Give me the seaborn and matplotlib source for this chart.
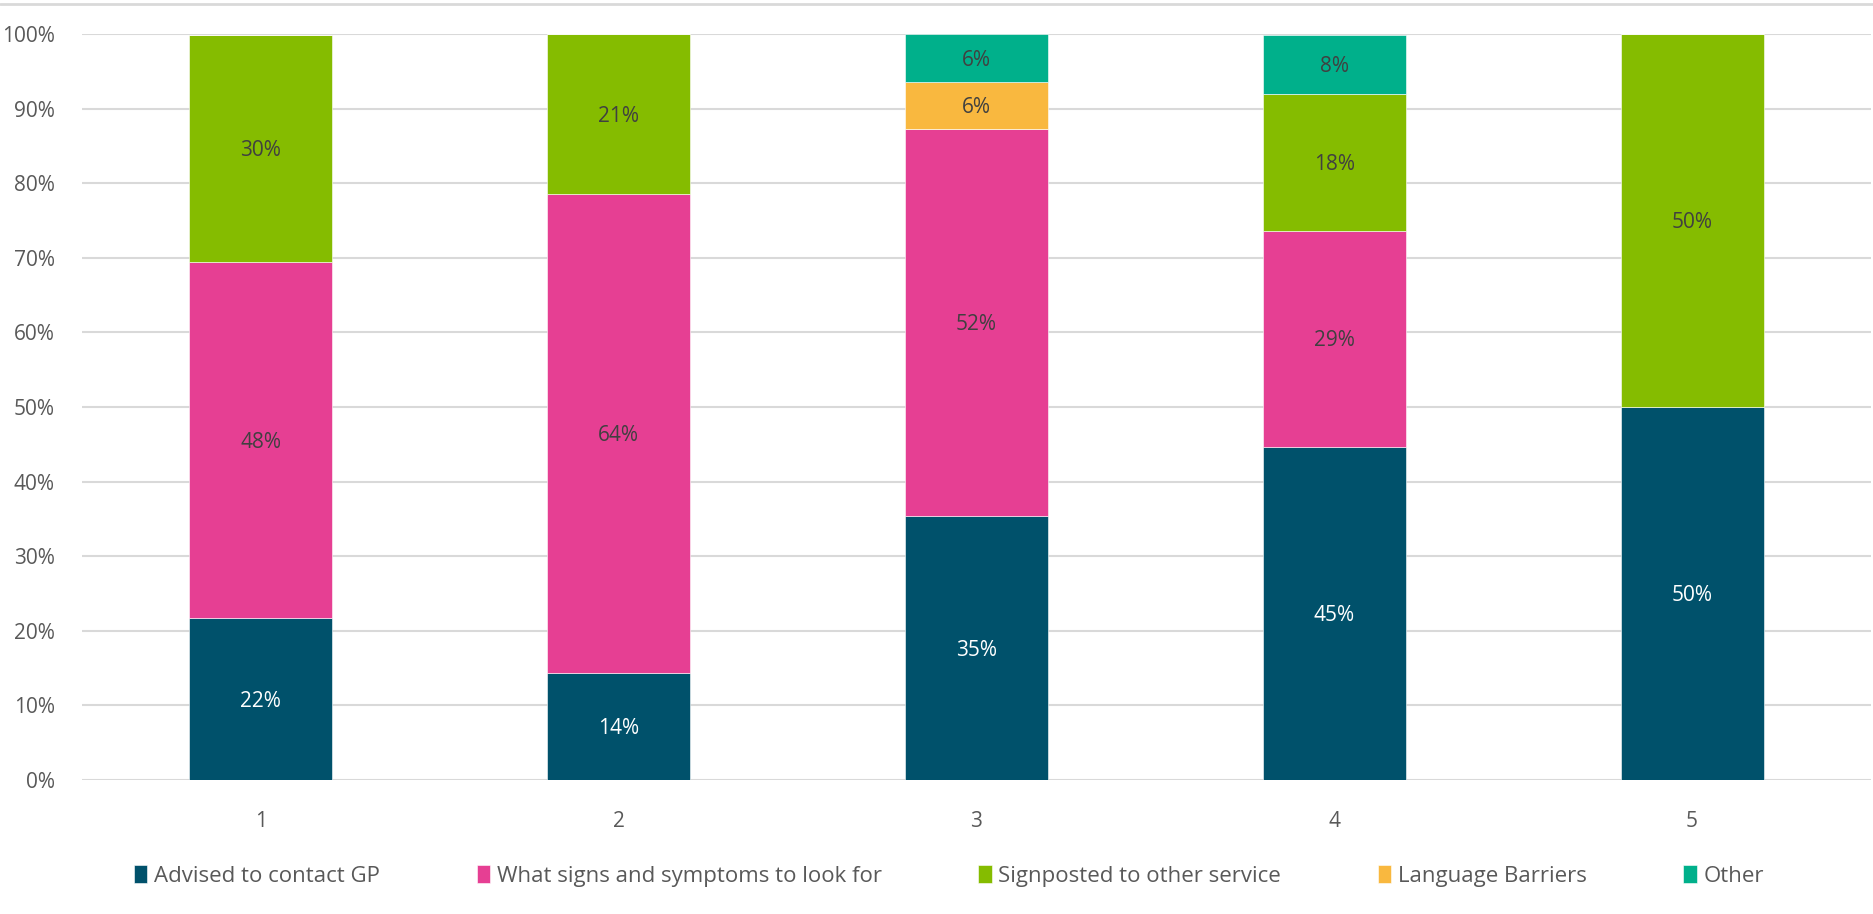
import matplotlib
matplotlib.use("Agg")
import matplotlib.pyplot as plt
import seaborn as sns
import numpy as np
import pandas as pd
from matplotlib.patches import Patch
from matplotlib.lines import Line2D

categories = ["1", "2", "3", "4", "5"]
series_names = ["Advised to contact GP", "What signs and symptoms to look for",
                "Signposted to other service", "Language Barriers", "Other"]
advised_gp = [21.7, 14.3, 35.4, 44.7, 50.0]
signs_symptoms = [47.8, 64.3, 51.8, 28.9, 0.0]
signposted = [30.4, 21.4, 0.0, 18.4, 50.0]
language = [0.0, 0.0, 6.4, 0.0, 0.0]
other = [0.0, 0.0, 6.4, 7.9, 0.0]
yticks = [0, 10, 20, 30, 40, 50, 60, 70, 80, 90, 100]

colors = ["#00516b", "#e63f93", "#85bc00", "#f9b83f", "#00b08b"]
label_colors = ["white", "#404040", "#404040", "#404040", "#404040"]

sns.set_theme(style="white")
plt.rcParams['font.family'] = ['Open Sans', 'DejaVu Sans']

fig = plt.figure(figsize=(18.74, 9.14), dpi=100)
ax = fig.add_axes([82/1874, 1-780/914, (1871-82)/1874, (780-34)/914])

series = [advised_gp, signs_symptoms, signposted, language, other]
bottom = np.zeros(len(categories))
for name, vals, col, lc in zip(series_names, series, colors, label_colors):
    df = pd.DataFrame({"cat": categories, "val": vals})
    sns.barplot(data=df, x="cat", y="val", order=categories, color=col,
                bottom=bottom, width=0.4, ax=ax, edgecolor="white",
                linewidth=0.4, saturation=1, zorder=3)
    for i, v in enumerate(vals):
        if v > 0:
            ax.text(i, bottom[i] + v / 2 - 0.3, f"{round(v):.0f}%", ha="center", va="center",
                    color=lc, fontsize=15, zorder=4)
    bottom = bottom + np.array(vals)

ax.set_xlim(-0.5, 4.5)
ax.set_ylim(0, 100)
ax.set_yticks(yticks)
ax.set_yticklabels([f"{t}%" for t in yticks])
ax.yaxis.grid(True, color="#d9d9d9", linewidth=1.5, zorder=0)
ax.set_axisbelow(True)
for s in ax.spines.values():
    s.set_visible(False)
ax.tick_params(axis="y", length=0, pad=19.5, labelsize=15, labelcolor="#595959")
ax.tick_params(axis="x", length=0, pad=22, labelsize=15, labelcolor="#595959")
ax.set_xlabel("")
ax.set_ylabel("")

# top border line
fig.add_artist(Line2D([0, 1], [1-4/914, 1-4/914], transform=fig.transFigure,
                      color="#d9d9d9", linewidth=2))

handles = [Patch(facecolor=c, edgecolor="white", linewidth=0.4) for c in colors]
fig.legend(handles, series_names, loc="center", bbox_to_anchor=(0.5064, 1-876/914),
           ncol=5, frameon=False, fontsize=16, handlelength=0.6, handleheight=0.85,
           handletextpad=0.3, columnspacing=4.35, labelcolor="#595959")

fig.savefig("out.png", dpi=100)
